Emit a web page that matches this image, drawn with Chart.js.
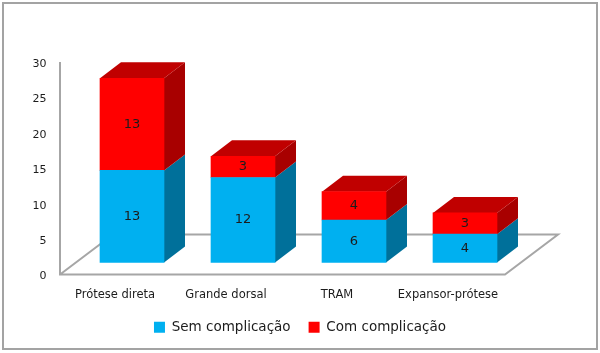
<!DOCTYPE html>
<html>
<head>
<meta charset="utf-8">
<script src="https://cdn.jsdelivr.net/npm/chart.js@4"></script>
<style>
    html, body { margin: 0; background: #fff; }
    #wrap { position: relative; width: 600px; height: 353px; overflow: hidden; }
    #frame { position: absolute; left: 2px; top: 2px; width: 596px; height: 348px; box-sizing: border-box; border: 2px solid #a3a3a3; }
    canvas { position: absolute; left: 0; top: 0; }
</style>
</head>
<body>
<div id="wrap">
    <canvas id="chart" width="600" height="353"></canvas>
    <div id="frame"></div>
</div>
<script>
// Dados
const categorias = ['Prótese direta', 'Grande dorsal', 'TRAM', 'Expansor-prótese'];
const semComplicacao = [13, 12, 6, 4];
const comComplicacao = [13, 3, 4, 3];
const ticksY = [0, 5, 10, 15, 20, 25, 30];

// Cores
const cores = {
    azul: '#00b0f0',
    azulLado: '#00709a',
    vermelho: '#ff0000',
    vermelhoLado: '#a80000',
    vermelhoTopo: '#c00000',
    chao: '#a6a6a6',
    texto: '#1c1c1c'
};

// Profundidade do efeito 3D
const fundoX = 21;
const fundoY = 16;

function poligono(ctx, pontos, cor) {
    ctx.fillStyle = cor;
    ctx.beginPath();
    pontos.forEach((p, i) => i ? ctx.lineTo(p[0], p[1]) : ctx.moveTo(p[0], p[1]));
    ctx.closePath();
    ctx.fill();
}

// Parede e chao atras das barras, depois os lados das barras
const efeito3d = {
    id: 'efeito3d',
    beforeDatasetsDraw(chart) {
        const { ctx, chartArea, scales } = chart;
        const y0 = scales.y.getPixelForValue(0);
        const y30 = scales.y.getPixelForValue(30);
        const esq = chartArea.left - 16.5;
        const dir = chartArea.right - 15.5;

        ctx.save();
        ctx.strokeStyle = cores.chao;
        ctx.lineWidth = 2;
        ctx.beginPath();
        ctx.moveTo(esq, y30);
        ctx.lineTo(esq, y0);
        ctx.lineTo(dir, y0);
        ctx.lineTo(dir + 53, y0 - 40);
        ctx.lineTo(esq + 53, y0 - 40);
        ctx.lineTo(esq, y0);
        ctx.stroke();

        chart.data.datasets.forEach((ds, d) => {
            chart.getDatasetMeta(d).data.forEach(bar => {
                const x = bar.x + bar.width / 2;
                const corLado = d === 0 ? cores.azulLado : cores.vermelhoLado;
                poligono(ctx, [[x, bar.y], [x + fundoX, bar.y - fundoY], [x + fundoX, bar.base - fundoY], [x, bar.base]], corLado);
                if (d === chart.data.datasets.length - 1) {
                    const e = bar.x - bar.width / 2;
                    poligono(ctx, [[e, bar.y], [e + fundoX, bar.y - fundoY], [x + fundoX, bar.y - fundoY], [x, bar.y]], cores.vermelhoTopo);
                }
            });
        });
        ctx.restore();
    },
    afterDatasetsDraw(chart) {
        const { ctx } = chart;
        ctx.save();
        ctx.fillStyle = cores.texto;
        ctx.font = '13px "DejaVu Sans"';
        ctx.textAlign = 'center';
        ctx.textBaseline = 'middle';
        chart.data.datasets.forEach((ds, d) => {
            chart.getDatasetMeta(d).data.forEach((bar, i) => {
                ctx.fillText(ds.data[i], bar.x, (bar.y + bar.base) / 2);
            });
        });
        ctx.restore();
    }
};

new Chart(document.getElementById('chart'), {
    type: 'bar',
    data: {
        labels: categorias,
        datasets: [{
            label: 'Sem complicação',
            data: semComplicacao,
            backgroundColor: cores.azul,
            yAxisID: 'yBarras'
        }, {
            label: 'Com complicação',
            data: comComplicacao,
            backgroundColor: cores.vermelho,
            yAxisID: 'yBarras'
        }]
    },
    options: {
        responsive: false,
        animation: false,
        barThickness: 64,
        layout: { padding: { top: 62, right: 0, bottom: 9, left: 0 } },
        plugins: {
            tooltip: { enabled: false },
            legend: {
                position: 'bottom',
                labels: {
                    boxWidth: 11,
                    boxHeight: 11,
                    padding: 18,
                    color: cores.texto,
                    font: { family: '"DejaVu Sans"', size: 13.5 }
                }
            }
        },
        scales: {
            x: {
                stacked: true,
                grid: { display: false },
                border: { display: false },
                afterFit: axis => { axis.height = 28; },
                ticks: {
                    color: cores.texto,
                    font: { family: '"DejaVu Sans"', size: 11.5 },
                    labelOffset: -17,
                    padding: 6,
                    maxRotation: 0,
                    autoSkip: false
                }
            },
            y: {
                position: 'left',
                min: 0,
                max: 30,
                grid: { display: false, drawTicks: false },
                border: { display: false },
                afterBuildTicks: axis => { axis.ticks = ticksY.map(value => ({ value })); },
                afterFit: axis => { axis.width = 76.5; },
                ticks: {
                    color: cores.texto,
                    font: { family: '"DejaVu Sans"', size: 11 },
                    labelOffset: 2,
                    padding: 30
                }
            },
            // As barras ficam recuadas em relacao ao eixo: o zero delas cai acima do zero do eixo
            yBarras: {
                position: 'right',
                stacked: true,
                min: -1.7,
                max: 28.3,
                grid: { display: false, drawTicks: false },
                border: { display: false },
                afterFit: axis => { axis.width = 79.5; },
                ticks: { display: false }
            }
        }
    },
    plugins: [efeito3d]
});
</script>
</body>
</html>
